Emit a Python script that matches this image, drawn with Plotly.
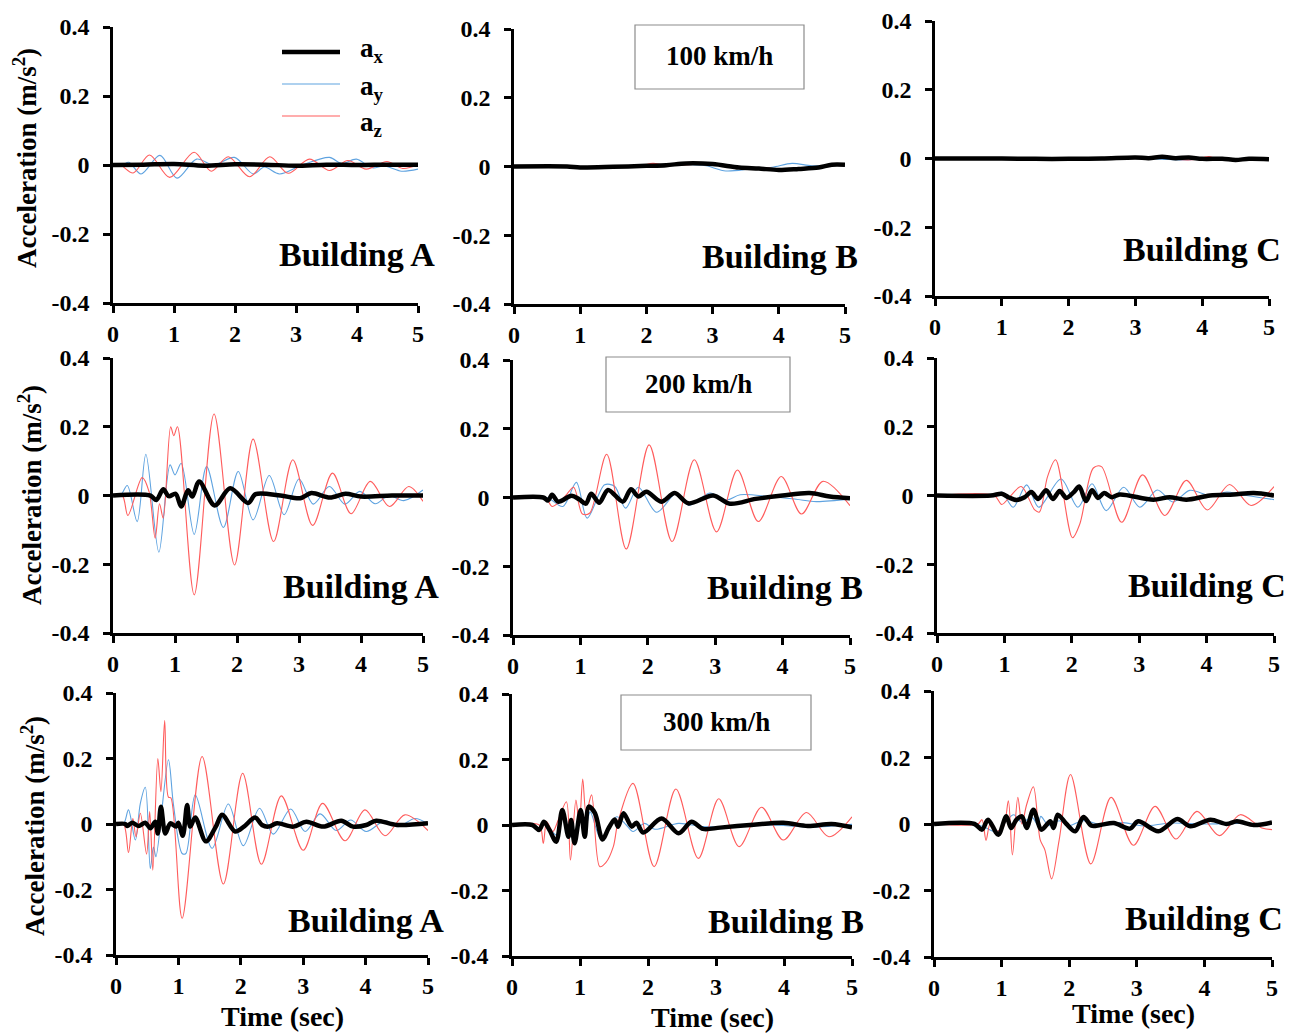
import plotly.graph_objects as go

# ---------------------------------------------------------------------------
# Floor acceleration time histories (m/s^2) for three buildings at three
# train speeds.  Each series is given as (time, value) pairs at its turning
# points; the curves are drawn with spline smoothing.
# ---------------------------------------------------------------------------

# ---- 100 km/h -------------------------------------------------------------
T_A100_AX = [0, 0.5, 1.0, 1.5, 2.0, 2.5, 3.0, 3.5, 4.0, 4.5, 5.0]
V_A100_AX = [0, 0.001, 0.003, -0.002, 0.002, 0.001, -0.002, 0.001, 0.0, 0.001, 0.001]
T_A100_AY = [0, 0.15, 0.26, 0.46, 0.77, 1.05, 1.37, 1.65, 1.99, 2.3, 2.48, 2.73, 3.1,
             3.55, 3.75, 3.99, 4.25, 4.45, 4.73, 5.0]
V_A100_AY = [0, 0, 0.008, -0.026, 0.028, -0.038, 0.017, 0.0, 0.022, -0.026, -0.006, -0.026,
             0.0, 0.022, 0.004, 0.017, -0.008, -0.003, -0.018, -0.012]
T_A100_AZ = [0, 0.12, 0.33, 0.6, 0.93, 1.33, 1.61, 1.89, 2.24, 2.57, 2.87, 3.22, 3.55,
             3.85, 4.15, 4.49, 4.75, 5.0]
V_A100_AZ = [0, 0, -0.023, 0.029, -0.036, 0.037, -0.018, 0.024, -0.034, 0.024, -0.024,
             0.017, -0.016, 0.013, -0.012, 0.01, -0.01, 0.0]

T_B100_AX = [0, 0.8, 1.0, 1.5, 2.0, 2.3, 2.6, 3.0, 3.4, 3.7, 4.0, 4.3, 4.6, 4.8, 5.0]
V_B100_AX = [0, 0, -0.003, -0.001, 0.002, 0.004, 0.009, 0.007, -0.003, -0.006, -0.01,
             -0.007, -0.003, 0.005, 0.005]
T_B100_AY = [0, 1.0, 2.0, 2.6, 2.9, 3.2, 3.6, 3.9, 4.2, 4.5, 4.8, 5.0]
V_B100_AY = [0, -0.002, 0.002, 0.006, 0.002, -0.013, -0.006, -0.002, 0.009, 0.002, 0.004, 0.004]
T_B100_AZ = [0, 0.7, 1.0, 1.6, 1.9, 2.1, 2.3, 2.7, 3.0, 3.4, 3.8, 4.1, 4.5, 4.8, 5.0]
V_B100_AZ = [0, -0.003, -0.001, -0.002, 0.002, 0.009, 0.003, 0.006, 0.005, -0.003,
             -0.004, -0.009, -0.004, 0.004, 0.005]

T_C100_AX = [0, 1.0, 1.5, 2.0, 2.5, 3.0, 3.2, 3.4, 3.6, 3.8, 4.0, 4.3, 4.5, 4.7, 5.0]
V_C100_AX = [0, 0, -0.001, -0.001, 0.0, 0.003, 0.001, 0.005, 0.001, 0.003, -0.001,
             -0.001, -0.004, -0.001, -0.002]
T_C100_AY = [0, 2.0, 3.0, 3.5, 3.8, 4.0, 4.4, 4.7, 5.0]
V_C100_AY = [0, 0, 0.002, -0.003, -0.004, 0.002, -0.004, 0.002, 0.0]
T_C100_AZ = [0, 1.5, 2.5, 3.0, 3.4, 3.6, 3.9, 4.1, 4.2, 4.5, 4.7, 5.0]
V_C100_AZ = [0, -0.002, 0.0, 0.002, 0.006, -0.002, -0.003, 0.006, 0.0, -0.004, 0.002, -0.002]

# ---- 200 km/h -------------------------------------------------------------
T_A200_AX = [0, 0.6, 0.7, 0.81, 0.9, 1.01, 1.1, 1.21, 1.28, 1.39, 1.64, 1.89, 2.18, 2.3,
             2.7, 3.02, 3.2, 3.5, 3.75, 4.0, 4.5, 5.0]
V_A200_AX = [0, 0, -0.013, 0.018, -0.002, 0.005, -0.032, 0.015, -0.003, 0.041, -0.029,
             0.021, -0.022, 0.004, 0.0, -0.008, 0.007, -0.006, 0.005, -0.003, 0.0, 0.0]
T_A200_AY = [0, 0.12, 0.23, 0.39, 0.53, 0.74, 0.92, 1.0, 1.1, 1.31, 1.51, 1.78, 2.02,
             2.26, 2.52, 2.76, 3.0, 3.23, 3.49, 3.74, 3.98, 4.23, 4.45, 4.69, 5.0]
V_A200_AY = [0, 0, 0.029, -0.076, 0.12, -0.165, 0.089, 0.06, 0.094, -0.113, 0.084, -0.093,
             0.07, -0.071, 0.058, -0.056, 0.048, -0.025, 0.026, -0.025, 0.012, -0.024,
             0.0, -0.015, 0.016]
T_A200_AZ = [0, 0.15, 0.24, 0.47, 0.58, 0.68, 0.75, 0.81, 0.93, 0.98, 1.04, 1.31, 1.63,
             1.96, 2.26, 2.59, 2.9, 3.22, 3.54, 3.84, 4.15, 4.46, 4.77, 5.0]
V_A200_AZ = [0, 0, -0.058, 0.052, 0.012, -0.124, -0.024, -0.066, 0.2, 0.174, 0.2, -0.289,
             0.237, -0.202, 0.164, -0.134, 0.104, -0.087, 0.065, -0.053, 0.041, -0.032,
             0.026, -0.017]

T_B200_AX = [0, 0.45, 0.52, 0.58, 0.67, 0.87, 0.98, 1.08, 1.16, 1.28, 1.41, 1.63, 1.75,
             1.86, 1.98, 2.2, 2.4, 2.6, 2.97, 3.22, 3.6, 4.0, 4.4, 4.7, 5.0]
V_B200_AX = [0, 0, -0.009, 0.008, -0.012, 0.005, -0.005, -0.018, 0.011, -0.015, 0.022,
             -0.012, 0.024, 0.003, 0.017, -0.012, 0.013, -0.017, 0.006, -0.018, -0.004,
             0.006, 0.013, 0.003, -0.002]
T_B200_AY = [0, 0.5, 0.74, 0.94, 1.1, 1.36, 1.51, 1.67, 1.86, 2.13, 2.43, 2.61, 2.92,
             3.17, 3.37, 3.8, 4.2, 4.5, 5.0]
V_B200_AY = [0, 0, -0.026, 0.044, -0.06, 0.037, 0.032, -0.031, 0.03, -0.043, 0.013,
             -0.023, 0.013, -0.007, 0.008, 0.003, -0.005, -0.012, -0.004]
T_B200_AZ = [0, 0.48, 0.58, 0.77, 0.9, 1.03, 1.14, 1.39, 1.68, 2.02, 2.36, 2.69, 3.02,
             3.33, 3.64, 3.98, 4.28, 4.6, 5.0]
V_B200_AZ = [0, 0, -0.026, 0.003, 0.03, -0.048, -0.045, 0.126, -0.15, 0.153, -0.128,
             0.11, -0.1, 0.08, -0.07, 0.061, -0.048, 0.047, -0.024]

T_C200_AX = [0, 0.8, 0.96, 1.06, 1.18, 1.3, 1.4, 1.5, 1.62, 1.72, 1.82, 1.92, 2.03, 2.11,
             2.21, 2.3, 2.39, 2.48, 2.59, 2.71, 3.21, 3.45, 3.7, 4.05, 4.4, 4.7, 5.0]
V_C200_AX = [0, 0, 0.005, -0.005, -0.013, -0.005, 0.01, -0.01, 0.015, -0.01, 0.013,
             -0.007, 0.01, 0.026, -0.016, 0.015, -0.007, 0.007, -0.005, 0.003, -0.012,
             -0.005, -0.012, 0.0, 0.003, 0.007, 0.0]
T_C200_AY = [0, 0.85, 0.96, 1.13, 1.33, 1.51, 1.84, 2.09, 2.3, 2.51, 2.77, 3.01, 3.27,
             3.5, 3.75, 4.05, 4.3, 4.5, 5.0]
V_C200_AY = [0, 0, 0.01, -0.034, 0.031, -0.034, 0.048, -0.034, 0.034, -0.044, 0.024,
             -0.034, 0.016, -0.019, 0.015, 0.0, 0.01, 0.003, -0.012]
T_C200_AZ = [0, 0.85, 0.96, 1.08, 1.25, 1.45, 1.52, 1.64, 1.76, 2.01, 2.12, 2.32, 2.44,
             2.74, 3.05, 3.38, 3.7, 4.01, 4.34, 4.66, 5.0]
V_C200_AZ = [0, 0, -0.026, -0.004, 0.026, -0.042, -0.048, 0.055, 0.104, -0.123, -0.082,
             0.08, 0.084, -0.078, 0.06, -0.058, 0.044, -0.042, 0.032, -0.029, 0.026]

# ---- 300 km/h -------------------------------------------------------------
T_A300_AX = [0, 0.15, 0.18, 0.26, 0.36, 0.47, 0.55, 0.63, 0.67, 0.72, 0.79, 0.87, 0.96,
             1.0, 1.07, 1.14, 1.19, 1.27, 1.44, 1.6, 1.7, 1.91, 2.05, 2.23, 2.34, 2.44,
             2.58, 2.84, 3.05, 3.32, 3.61, 3.8, 4.01, 4.17, 4.5, 5.0]
V_A300_AX = [0, 0, -0.006, 0.004, -0.006, 0.004, -0.013, 0.007, -0.029, 0.053, -0.029,
             0.002, -0.008, 0.004, -0.036, 0.058, -0.008, 0.02, -0.053, -0.008, 0.028,
             -0.023, -0.008, 0.02, -0.003, -0.008, 0.002, -0.008, 0.007, -0.008, 0.01,
             -0.008, -0.003, 0.01, -0.003, 0.002]
T_A300_AY = [0, 0.12, 0.2, 0.31, 0.39, 0.47, 0.55, 0.6, 0.64, 0.84, 0.92, 1.06, 1.12,
             1.27, 1.54, 1.8, 2.04, 2.3, 2.52, 2.8, 3.03, 3.27, 3.53, 3.76, 4.01, 4.31,
             4.52, 4.79, 5.0]
V_A300_AY = [0, 0, 0.043, -0.049, 0.063, 0.112, -0.136, -0.07, -0.1, 0.196, 0.06, -0.09,
             -0.09, 0.089, -0.074, 0.061, -0.066, 0.048, -0.031, 0.046, -0.023, 0.031,
             -0.02, 0.012, -0.023, 0.01, -0.008, 0.017, 0.0]
T_A300_AZ = [0, 0.12, 0.2, 0.27, 0.32, 0.39, 0.49, 0.54, 0.59, 0.67, 0.72, 0.78, 0.84,
             0.88, 1.06, 1.38, 1.72, 2.03, 2.33, 2.65, 3.0, 3.31, 3.67, 3.99, 4.31, 4.63, 5.0]
V_A300_AZ = [0, 0, -0.087, 0.017, -0.039, 0.033, -0.092, 0.038, -0.141, 0.2, 0.099,
             0.316, 0.082, 0.08, -0.288, 0.206, -0.183, 0.155, -0.123, 0.086, -0.08,
             0.063, -0.051, 0.043, -0.036, 0.028, -0.02]

T_B300_AX = [0, 0.3, 0.4, 0.47, 0.55, 0.65, 0.74, 0.83, 0.87, 0.92, 1.01, 1.07, 1.13,
             1.22, 1.33, 1.42, 1.51, 1.56, 1.64, 1.76, 1.83, 1.93, 2.2, 2.45, 2.64, 2.81,
             3.06, 3.5, 3.99, 4.35, 4.7, 5.0]
V_B300_AX = [0, 0, -0.015, 0.01, -0.015, -0.051, 0.046, -0.036, 0.015, -0.056, 0.046,
             -0.036, 0.056, 0.036, -0.044, -0.01, 0.017, -0.005, 0.036, -0.005, 0.007,
             -0.023, 0.02, -0.025, 0.01, -0.012, -0.008, 0.0, 0.007, -0.003, 0.003, -0.007]
T_B300_AY = [0, 0.3, 0.4, 0.47, 0.55, 0.65, 0.74, 0.83, 0.92, 1.01, 1.07, 1.15, 1.3,
             1.42, 1.54, 1.68, 1.78, 1.95, 2.1, 2.45, 2.8, 3.2, 3.8, 4.4, 5.0]
V_B300_AY = [0, 0, -0.012, 0.008, -0.01, -0.03, 0.03, -0.025, -0.04, 0.035, -0.025,
             0.04, -0.04, -0.01, 0.025, 0.0, -0.02, 0.005, -0.013, 0.005, -0.005,
             -0.005, 0.0, -0.006, 0.002]
T_B300_AZ = [0, 0.4, 0.46, 0.51, 0.6, 0.68, 0.8, 0.86, 0.94, 0.99, 1.04, 1.09, 1.17,
             1.29, 1.38, 1.49, 1.56, 1.78, 2.09, 2.41, 2.74, 3.04, 3.34, 3.67, 3.99,
             4.33, 4.66, 5.0]
V_B300_AZ = [0, 0, -0.056, 0.01, -0.02, 0.015, 0.071, -0.107, 0.076, 0.0, 0.14, 0.035,
             0.092, -0.127, -0.115, -0.066, 0.01, 0.127, -0.127, 0.11, -0.102, 0.08,
             -0.066, 0.054, -0.046, 0.038, -0.036, 0.025]

T_C300_AX = [0, 0.6, 0.71, 0.8, 0.95, 1.07, 1.14, 1.22, 1.3, 1.37, 1.47, 1.59, 1.72,
             1.77, 1.83, 1.96, 2.09, 2.21, 2.33, 2.46, 2.66, 2.9, 3.02, 3.32, 3.6, 3.79,
             4.09, 4.33, 4.48, 4.73, 5.0]
V_C300_AX = [0, 0, -0.017, 0.013, -0.032, 0.023, -0.012, 0.013, 0.023, -0.012, 0.043,
             -0.017, 0.008, -0.012, 0.028, 0.0, -0.022, 0.021, -0.005, -0.003, 0.003,
             -0.014, 0.008, -0.022, 0.015, -0.007, 0.013, 0.0, 0.008, -0.003, 0.005]
T_C300_AY = [0, 0.6, 0.75, 0.95, 1.07, 1.18, 1.3, 1.45, 1.54, 1.58, 1.7, 1.85, 2.0,
             2.2, 2.5, 2.8, 3.1, 3.5, 4.0, 4.5, 5.0]
V_C300_AY = [0, 0, -0.01, -0.025, 0.01, 0.028, 0.005, 0.02, -0.005, 0.023, -0.005,
             0.01, -0.005, 0.01, -0.003, 0.004, -0.006, 0.003, 0.0, 0.002, 0.0]
T_C300_AZ = [0, 0.65, 0.71, 0.77, 0.83, 0.92, 1.03, 1.1, 1.16, 1.24, 1.3, 1.37, 1.47,
             1.57, 1.64, 1.74, 1.85, 2.02, 2.32, 2.62, 2.95, 3.27, 3.58, 3.89, 4.22,
             4.53, 4.85, 5.0]
V_C300_AZ = [0, 0, 0.013, -0.049, 0.0, -0.022, -0.007, 0.07, -0.093, 0.08, 0.0, 0.058,
             0.112, -0.047, -0.078, -0.165, -0.05, 0.149, -0.12, 0.08, -0.064, 0.053,
             -0.045, 0.038, -0.035, 0.028, -0.012, -0.017]

# Axis ticks and labels
Y_TICKS = [-0.4, -0.2, 0, 0.2, 0.4]
Y_TICK_TEXT = ["-0.4", "-0.2", "0", "0.2", "0.4"]
X_TICKS = [0, 1, 2, 3, 4, 5]
X_TICK_TEXT = ["0", "1", "2", "3", "4", "5"]
BUILDINGS = ["Building A", "Building B", "Building C"]
SPEEDS = ["100 km/h", "200 km/h", "300 km/h"]
SERIES_NAMES = ["a<sub>x</sub>", "a<sub>y</sub>", "a<sub>z</sub>"]

# Panel order: row-major (speed), columns = buildings
PANEL_SERIES = [
    [(T_A100_AX, V_A100_AX), (T_A100_AY, V_A100_AY), (T_A100_AZ, V_A100_AZ)],
    [(T_B100_AX, V_B100_AX), (T_B100_AY, V_B100_AY), (T_B100_AZ, V_B100_AZ)],
    [(T_C100_AX, V_C100_AX), (T_C100_AY, V_C100_AY), (T_C100_AZ, V_C100_AZ)],
    [(T_A200_AX, V_A200_AX), (T_A200_AY, V_A200_AY), (T_A200_AZ, V_A200_AZ)],
    [(T_B200_AX, V_B200_AX), (T_B200_AY, V_B200_AY), (T_B200_AZ, V_B200_AZ)],
    [(T_C200_AX, V_C200_AX), (T_C200_AY, V_C200_AY), (T_C200_AZ, V_C200_AZ)],
    [(T_A300_AX, V_A300_AX), (T_A300_AY, V_A300_AY), (T_A300_AZ, V_A300_AZ)],
    [(T_B300_AX, V_B300_AX), (T_B300_AY, V_B300_AY), (T_B300_AZ, V_B300_AZ)],
    [(T_C300_AX, V_C300_AX), (T_C300_AY, V_C300_AY), (T_C300_AZ, V_C300_AZ)],
]

# ---------------------------------------------------------------------------
# Layout geometry (pixels)
# ---------------------------------------------------------------------------
W, H = 1300, 1033
FONT = "Liberation Serif"
COL_X = "#000000"
COL_Y = "#5fa3e0"
COL_Z = "#ff5c5c"

# plot-area boxes: (left, right, top, bottom)
PANEL_BOX = [
    (113, 418, 27, 303), (514, 845, 29, 304), (935, 1269, 21, 296),
    (113, 423, 358, 633), (513, 850, 360, 635), (937, 1274, 358, 633),
    (116, 428, 693, 955), (512, 852, 694, 956), (934, 1272, 691, 957),
]
# right edge / vertical centre of the building labels
BUILDING_POS = [
    (437, 255), (860, 256), (1283, 249),
    (441, 586), (865, 587), (1288, 585),
    (446, 920), (866, 921), (1285, 918),
]
# speed boxes: (left, right, top, bottom)
SPEED_BOX = [(635, 804, 25, 89), (606, 790, 357, 412), (621, 811, 695, 750)]
Y_TITLE_POS = [(25, 158), (30, 495), (33, 826)]
X_TITLE_POS = [(282, 1016), (712, 1017), (1133, 1013)]


def px(x):
    return x / W


def py(y):
    return 1 - y / H


fig = go.Figure()
layout = dict(
    width=W, height=H,
    margin=dict(l=0, r=0, t=0, b=0, pad=0, autoexpand=False),
    paper_bgcolor="white", plot_bgcolor="white",
    showlegend=False,
    font=dict(family=FONT, color="black"),
)

for i, (box, series) in enumerate(zip(PANEL_BOX, PANEL_SERIES)):
    n = "" if i == 0 else str(i + 1)
    xa, ya = "x" + n, "y" + n
    (tx, vx), (ty, vy), (tz, vz) = series
    for t, v, col, w in ((ty, vy, COL_Y, 1.1), (tz, vz, COL_Z, 1.1), (tx, vx, COL_X, 4.5)):
        fig.add_trace(go.Scatter(
            x=t, y=v, mode="lines", xaxis=xa, yaxis=ya,
            line=dict(color=col, width=w, shape="spline", smoothing=0.9),
            hoverinfo="skip",
        ))
    left, right, top, bottom = box
    common = dict(
        showline=True, linecolor="black", linewidth=2.5,
        ticks="outside", ticklen=7, tickwidth=2.5, tickcolor="black",
        showgrid=False, zeroline=False, mirror=False, automargin=False,
        tickfont=dict(family=FONT, size=24, color="black", weight="bold"),
    )
    layout["xaxis" + n] = dict(
        domain=[px(left), px(right)], anchor=ya, range=[0, 5],
        tickvals=X_TICKS, ticktext=X_TICK_TEXT, ticklabelstandoff=0, **common,
    )
    layout["yaxis" + n] = dict(
        domain=[py(bottom), py(top)], anchor=xa, range=[-0.4, 0.4],
        tickvals=Y_TICKS, ticktext=Y_TICK_TEXT, ticklabelstandoff=9, **common,
    )

annotations = []
shapes = []

for label, (xr, yc) in zip([b for _ in range(3) for b in BUILDINGS], BUILDING_POS):
    annotations.append(dict(
        text=label, x=px(xr), y=py(yc), xref="paper", yref="paper",
        xanchor="right", yanchor="middle", showarrow=False,
        font=dict(family=FONT, size=34, color="black", weight="bold"),
    ))

for label, (l, r, t, b) in zip(SPEEDS, SPEED_BOX):
    shapes.append(dict(
        type="rect", xref="paper", yref="paper",
        x0=px(l), x1=px(r), y0=py(b), y1=py(t),
        line=dict(color="#8c8c8c", width=1.2), fillcolor="white",
    ))
    annotations.append(dict(
        text=label, x=px((l + r) / 2), y=py((t + b) / 2 - 1), xref="paper", yref="paper",
        xanchor="center", yanchor="middle", showarrow=False,
        font=dict(family=FONT, size=27, color="black", weight="bold"),
    ))

for xc, yc in Y_TITLE_POS:
    annotations.append(dict(
        text="Acceleration (m/s<sup>2</sup>)", x=px(xc), y=py(yc),
        xref="paper", yref="paper", xanchor="center", yanchor="middle",
        textangle=-90, showarrow=False,
        font=dict(family=FONT, size=27, color="black", weight="bold"),
    ))

for xc, yc in X_TITLE_POS:
    annotations.append(dict(
        text="Time (sec)", x=px(xc), y=py(yc), xref="paper", yref="paper",
        xanchor="center", yanchor="middle", showarrow=False,
        font=dict(family=FONT, size=28, color="black", weight="bold"),
    ))

# Legend (inside the first panel)
LEGEND_ROWS = [(52, 50, COL_X, 4.5), (84, 88, COL_Y, 1.1), (116, 124, COL_Z, 1.1)]
for name, (yl, yt, col, w) in zip(SERIES_NAMES, LEGEND_ROWS):
    shapes.append(dict(
        type="line", xref="paper", yref="paper",
        x0=px(282), x1=px(340), y0=py(yl), y1=py(yl),
        line=dict(color=col, width=w),
    ))
    annotations.append(dict(
        text=name, x=px(358), y=py(yt), xref="paper", yref="paper",
        xanchor="left", yanchor="middle", showarrow=False,
        font=dict(family=FONT, size=27, color="black", weight="bold"),
    ))

layout["annotations"] = annotations
layout["shapes"] = shapes
fig.update_layout(**layout)

fig.write_html("out.html")
